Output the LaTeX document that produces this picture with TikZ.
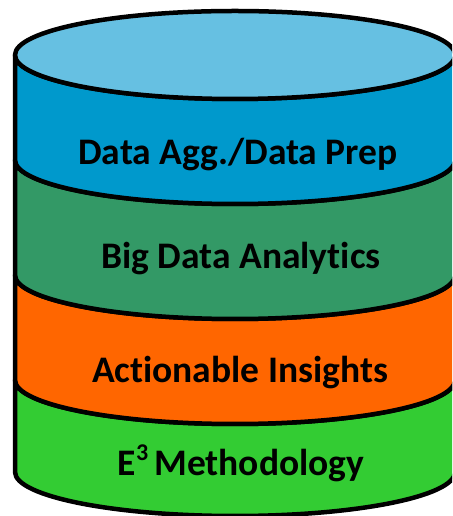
\documentclass[tikz,border=0pt]{standalone}
\usepackage{fontspec}
\setmainfont[Ligatures={NoCommon}]{Carlito}
\definecolor{topblue}{RGB}{102,192,226}
\definecolor{bandblue}{RGB}{0,153,204}
\definecolor{bandgreen}{RGB}{51,153,102}
\definecolor{bandorange}{RGB}{255,102,0}
\definecolor{bandlime}{RGB}{51,204,51}
\tikzset{
  outline/.style={draw=black, line width=4.5pt, line join=round},
  label/.style={font=\fontsize{37.5}{44}\selectfont\bfseries, anchor=base, inner sep=0pt, text=black}
}
\begin{document}
\begin{tikzpicture}[x=1pt,y=1pt]
\clip (0,0) rectangle (452,516);
\fill[white] (0,0) rectangle (452,516);
% bands: (upper Y, lower Y, colour)
\foreach \ya/\yb/\col in {136/44/bandlime, 241/136/bandorange, 356/241/bandgreen, 461/356/bandblue}{
  \filldraw[outline, fill=\col] (15,\ya) -- (15,\yb)
     arc[start angle=180, end angle=360, x radius=220, y radius=44]
     -- (455,\ya)
     arc[start angle=0, end angle=-180, x radius=220, y radius=44] -- cycle;
}
\filldraw[outline, fill=topblue] (235,461) ellipse [x radius=220, y radius=44];
\node[label] (prep) at (238,351) {Data Agg./Data Prep};
\node[label] (bigdata) at (241,247) {Big Data Analytics};
\node[label] (insights) at (240,133) {Actionable Insights};
\node[label] (e3) at (241,40) {E\raisebox{0.42em}{\fontsize{24}{24}\selectfont 3}\,Methodology};
\end{tikzpicture}
\end{document}
